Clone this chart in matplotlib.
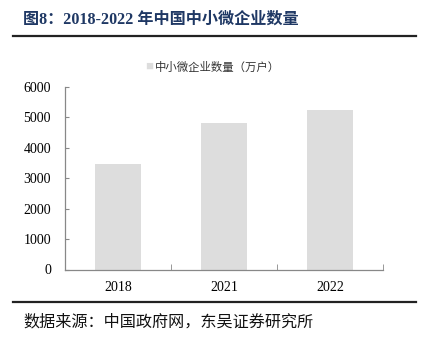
import matplotlib
matplotlib.use('Agg')
import matplotlib.pyplot as plt
from matplotlib.lines import Line2D

plt.rcParams['font.family'] = ['Liberation Serif', 'Noto Sans CJK SC', 'DejaVu Sans']

# 中小微企业数量（万户）
years = ['2018', '2021', '2022']
counts = [3474, 4830, 5240]
yticks = [0, 1000, 2000, 3000, 4000, 5000, 6000]

W, H = 422, 344
fig = plt.figure(figsize=(W / 100, H / 100), dpi=100)

# plot area in pixel coords
left, right, top, bottom = 65, 383, 87, 269.5
ax = fig.add_axes([left / W, 1 - bottom / H, (right - left) / W, (bottom - top) / H])

x = range(len(years))
ax.bar(x, counts, width=0.43, color='#dddddd', zorder=1, label='中小微企业数量（万户）')
ax.set_xlim(-0.5, len(years) - 0.5)
ax.set_ylim(0, 6000)
ax.set_yticks(yticks)
ax.set_yticklabels([str(v) for v in yticks], fontsize=10)
ax.set_xticks(list(x))
ax.set_xticklabels(years, fontsize=10)
ax.tick_params(axis='x', length=0, pad=8)
ax.tick_params(axis='y', direction='in', length=3, color='#888888', pad=10)
# category boundary ticks on the x axis
ax.set_xticks([-0.5, 0.5, 1.5, 2.5], minor=True)
ax.tick_params(axis='x', which='minor', direction='in', length=4, color='#888888')
for s in ['top', 'right']:
    ax.spines[s].set_visible(False)
for s in ['left', 'bottom']:
    ax.spines[s].set_color('#888888')
    ax.spines[s].set_linewidth(0.9)

# legend
fig.text(149 / W, 1 - 67 / H, '■', color='#dddddd', fontsize=9.5, va='center', ha='center')
fig.text(155 / W, 1 - 67 / H, '中小微企业数量（万户）', fontsize=8.2, va='center', ha='left',
         family=['Noto Sans CJK SC', 'DejaVu Sans'], color='#333333')

# title and rules
fig.text(23 / W, 1 - 20 / H, '图8：2018-2022 年中国中小微企业数量', fontsize=11.6, fontweight='bold',
         color='#1f3864', va='center', ha='left')
fig.add_artist(Line2D([13 / W, 416 / W], [1 - 35.5 / H] * 2, color='#222222', lw=1.6))
fig.add_artist(Line2D([13 / W, 416 / W], [1 - 302 / H] * 2, color='#222222', lw=1.6))
fig.text(23 / W, 1 - 322 / H, '数据来源：中国政府网，东吴证券研究所', fontsize=11.6,
         family=['Noto Sans CJK SC', 'DejaVu Sans'], color='#111111', va='center', ha='left')

fig.savefig('out.png', dpi=100)
